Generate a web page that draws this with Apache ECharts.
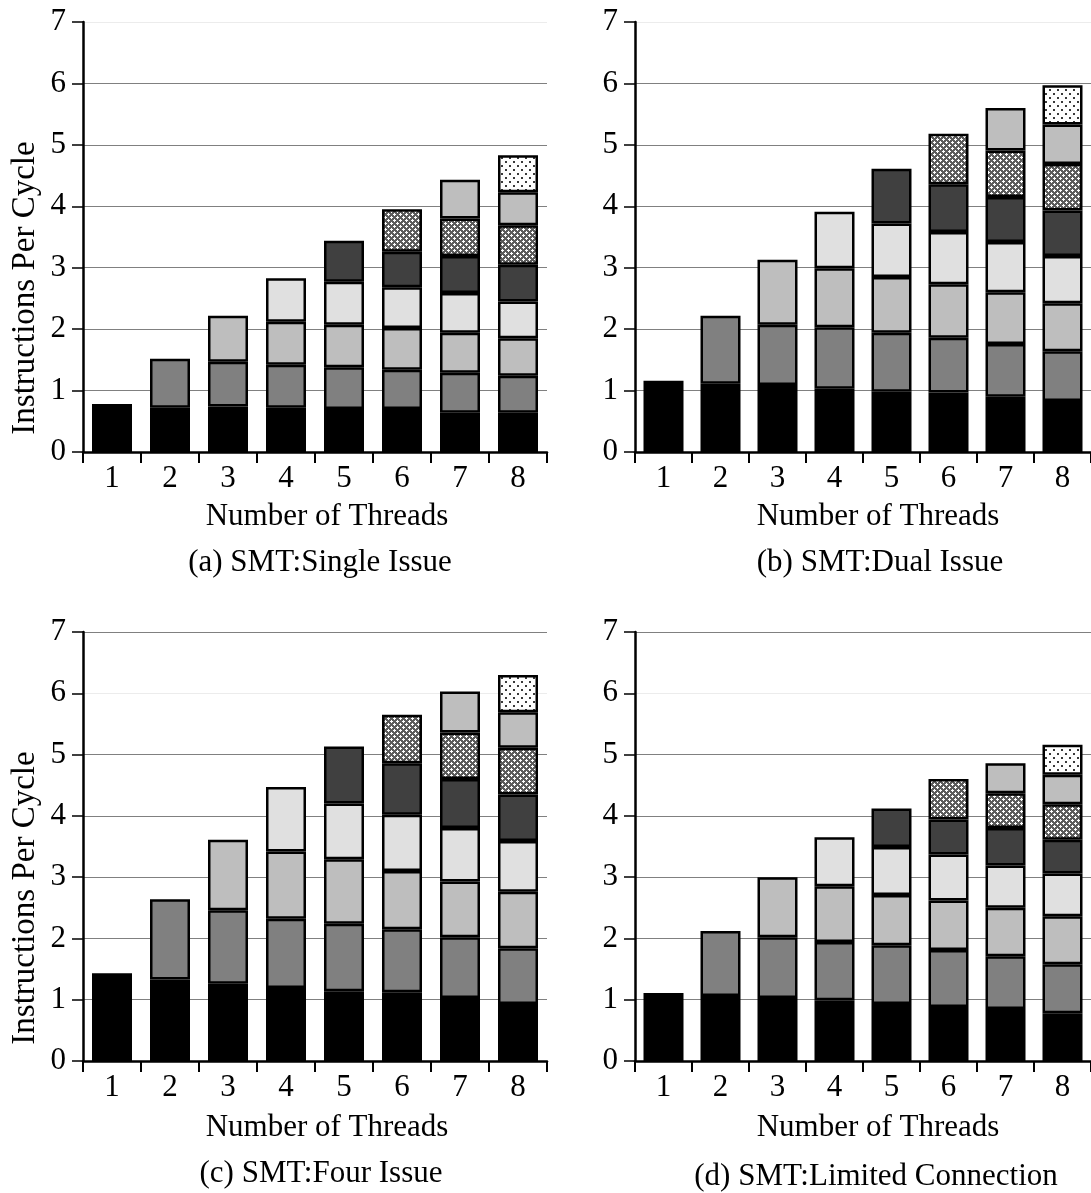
<!DOCTYPE html>
<html>
<head>
<meta charset="utf-8">
<script src="https://cdn.jsdelivr.net/npm/echarts@6/dist/echarts.min.js"></script>
<style>
  html, body { margin: 0; padding: 0; background: #fff; }
  #chart { width: 1091px; height: 1193px; }
</style>
</head>
<body>
<div id="chart"></div>
<script>
// Thread-count categories on every x axis
const threadCounts = ['1', '2', '3', '4', '5', '6', '7', '8'];

// Cumulative IPC at the top of each thread's segment, one row per thread count
const singleIssueTops = [
  [0.78],
  [0.72, 1.52],
  [0.74, 1.47, 2.22],
  [0.72, 1.42, 2.12, 2.83],
  [0.70, 1.38, 2.07, 2.77, 3.44],
  [0.70, 1.34, 2.02, 2.68, 3.26, 3.95],
  [0.64, 1.29, 1.94, 2.59, 3.19, 3.80, 4.43],
  [0.64, 1.24, 1.85, 2.45, 3.05, 3.69, 4.23, 4.83]
];
const dualIssueTops = [
  [1.16],
  [1.11, 2.22],
  [1.09, 2.07, 3.13],
  [1.03, 2.03, 2.99, 3.91],
  [0.98, 1.94, 2.85, 3.72, 4.61],
  [0.97, 1.86, 2.73, 3.58, 4.36, 5.18],
  [0.90, 1.76, 2.60, 3.42, 4.15, 4.91, 5.60],
  [0.83, 1.64, 2.42, 3.19, 3.93, 4.69, 5.33, 5.97]
];
const fourIssueTops = [
  [1.43],
  [1.33, 2.64],
  [1.26, 2.46, 3.61],
  [1.19, 2.32, 3.42, 4.47],
  [1.14, 2.24, 3.29, 4.20, 5.13],
  [1.12, 2.15, 3.10, 4.02, 4.86, 5.65],
  [1.03, 2.02, 2.93, 3.80, 4.60, 5.36, 6.03],
  [0.93, 1.84, 2.76, 3.59, 4.35, 5.11, 5.69, 6.30]
];
const limitedConnTops = [
  [1.11],
  [1.06, 2.12],
  [1.03, 2.02, 3.00],
  [0.99, 1.94, 2.85, 3.65],
  [0.93, 1.89, 2.71, 3.49, 4.12],
  [0.88, 1.81, 2.62, 3.37, 3.94, 4.60],
  [0.85, 1.71, 2.50, 3.19, 3.80, 4.37, 4.86],
  [0.78, 1.58, 2.36, 3.06, 3.61, 4.19, 4.67, 5.16]
];

// Y axis tick values
const ipcTicks = [0, 1, 2, 3, 4, 5, 6, 7];

const panelCaptions = [
  '(a) SMT:Single Issue',
  '(b) SMT:Dual Issue',
  '(c) SMT:Four Issue',
  '(d) SMT:Limited Connection'
];
const xAxisTitle = 'Number of Threads';
const yAxisTitle = 'Instructions Per Cycle';

const FONT = '"Liberation Serif", "Times New Roman", serif';
const TEXT_SIZE = 31;

// Hatched fills drawn into small canvases and tiled
function crossHatchTile() {
  const c = document.createElement('canvas');
  c.width = 6; c.height = 6;
  const g = c.getContext('2d');
  g.fillStyle = '#5c5c5c';
  g.fillRect(0, 0, 6, 6);
  g.fillStyle = '#ffffff';
  [[1, 1], [4, 4]].forEach(([cx, cy]) => {
    g.fillRect(cx, cy - 1, 1, 3);
    g.fillRect(cx - 1, cy, 3, 1);
  });
  return c;
}
function dotTile() {
  const c = document.createElement('canvas');
  c.width = 8; c.height = 8;
  const g = c.getContext('2d');
  g.fillStyle = '#ffffff';
  g.fillRect(0, 0, 8, 8);
  g.fillStyle = '#3a3a3a';
  g.fillRect(1, 1, 2, 2);
  g.fillRect(5, 5, 2, 2);
  return c;
}

const segmentFills = [
  '#000000',
  '#808080',
  '#bebebe',
  '#e0e0e0',
  '#404040',
  { image: crossHatchTile(), repeat: 'repeat' },
  '#bebebe',
  { image: dotTile(), repeat: 'repeat' }
];

const panels = [
  { tops: singleIssueTops,  left: 83,  top: 22,  height: 430, xName: [327, 517],  caption: [320, 563],  yName: [25, 288],  faintLine: 7 },
  { tops: dualIssueTops,    left: 635, top: 22,  height: 430, xName: [878, 517],  caption: [880, 563],  yName: null,       faintLine: 7 },
  { tops: fourIssueTops,    left: 83,  top: 632, height: 429, xName: [327, 1128], caption: [321, 1174], yName: [25, 898],  faintLine: 6 },
  { tops: limitedConnTops,  left: 635, top: 632, height: 429, xName: [878, 1128], caption: [876, 1177], yName: null,       faintLine: 6 }
];
const PLOT_WIDTH = 464;

const grids = [], xAxes = [], yAxes = [], series = [], graphics = [];

panels.forEach((p, pi) => {
  grids.push({ left: p.left, top: p.top, width: PLOT_WIDTH, height: p.height, containLabel: false });

  xAxes.push({
    type: 'category',
    gridIndex: pi,
    data: threadCounts,
    boundaryGap: true,
    axisLine: { show: true, lineStyle: { color: '#000', width: 2.5 } },
    axisTick: { show: true, length: 11, interval: 0, lineStyle: { color: '#000', width: 2 } },
    axisLabel: { margin: 11, color: '#000', fontFamily: FONT, fontSize: TEXT_SIZE },
    splitLine: { show: false }
  });

  const lineColors = ipcTicks.map((t) => (t === p.faintLine ? '#ececec' : '#808080'));
  yAxes.push({
    type: 'value',
    gridIndex: pi,
    min: ipcTicks[0],
    max: ipcTicks[ipcTicks.length - 1],
    interval: 1,
    axisLine: { show: true, onZero: false, lineStyle: { color: '#000', width: 2.5 } },
    axisTick: { show: true, length: 11, lineStyle: { color: '#000', width: 1.5 } },
    axisLabel: { margin: 17, color: '#000', fontFamily: FONT, fontSize: TEXT_SIZE },
    splitLine: { show: true, lineStyle: { color: lineColors, width: 1 } }
  });

  // One stacked series per thread slot; each bar holds as many segments as threads
  for (let k = 0; k < threadCounts.length; k++) {
    const data = p.tops.map((row) => {
      if (k >= row.length) return '-';
      const below = k === 0 ? 0 : row[k - 1];
      return +(row[k] - below).toFixed(3);
    });
    series.push({
      type: 'bar',
      xAxisIndex: pi,
      yAxisIndex: pi,
      stack: 'panel' + pi,
      barWidth: 40,
      data: data,
      itemStyle: { color: segmentFills[k], borderColor: '#000', borderWidth: 2.5 },
      emphasis: { disabled: true },
      animation: false
    });
  }

  graphics.push({
    type: 'text', x: p.xName[0], y: p.xName[1],
    style: { text: xAxisTitle, fill: '#000', font: TEXT_SIZE + 'px ' + FONT, align: 'center', verticalAlign: 'middle' }
  });
  graphics.push({
    type: 'text', x: p.caption[0], y: p.caption[1],
    style: { text: panelCaptions[pi], fill: '#000', font: TEXT_SIZE + 'px ' + FONT, align: 'center', verticalAlign: 'middle' }
  });
  if (p.yName) {
    graphics.push({
      type: 'text', x: p.yName[0], y: p.yName[1], rotation: Math.PI / 2,
      style: { text: yAxisTitle, fill: '#000', font: '33px ' + FONT, align: 'center', verticalAlign: 'middle' }
    });
  }
});

const chart = echarts.init(document.getElementById('chart'), null, { renderer: 'canvas' });
chart.setOption({
  backgroundColor: '#ffffff',
  animation: false,
  grid: grids,
  xAxis: xAxes,
  yAxis: yAxes,
  series: series,
  graphic: graphics
});
</script>
</body>
</html>
